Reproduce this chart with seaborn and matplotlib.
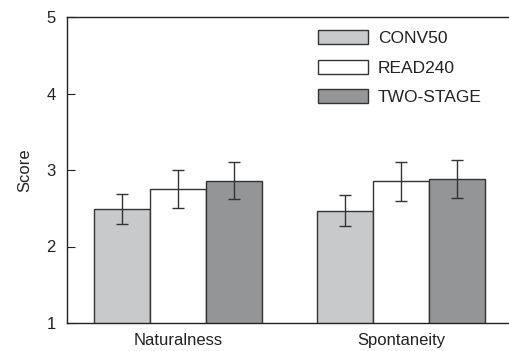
import matplotlib
matplotlib.use("Agg")
import matplotlib.pyplot as plt
import seaborn as sns
import pandas as pd
import numpy as np

categories = ["Naturalness", "Spontaneity"]
systems = ["CONV50", "READ240", "TWO-STAGE"]
conv50 = [2.49, 2.47]
read240 = [2.75, 2.85]
twostage = [2.86, 2.88]
conv50_err = [0.195, 0.20]
read240_err = [0.245, 0.255]
twostage_err = [0.24, 0.25]

sns.set_theme(style="white")
plt.rcParams["font.family"] = ["Liberation Sans", "DejaVu Sans"]

rows = []
for sysname, vals, errs in [("CONV50", conv50, conv50_err),
                            ("READ240", read240, read240_err),
                            ("TWO-STAGE", twostage, twostage_err)]:
    for c, v, e in zip(categories, vals, errs):
        rows.append({"Category": c, "System": sysname, "Score": v, "Err": e})
df = pd.DataFrame(rows)

palette = {"CONV50": "#c8c9cb", "READ240": "#ffffff", "TWO-STAGE": "#939598"}

fig = plt.figure(figsize=(5.09, 3.51), dpi=100)
ax = fig.add_axes([67/509, 1-323/351, 1-67/509, (323-17)/351])

sns.barplot(data=df, x="Category", y="Score", hue="System", order=categories,
            hue_order=systems, palette=palette, width=0.75, errorbar=None,
            edgecolor="#333333", linewidth=1.0, ax=ax)

# error bars at bar centers
for cont, sysname in zip(ax.containers, systems):
    sub = df[df.System == sysname].set_index("Category").loc[categories]
    xs = [p.get_x() + p.get_width()/2 for p in cont.patches]
    ax.errorbar(xs, sub["Score"].values, yerr=sub["Err"].values, fmt="none",
                ecolor="#333333", elinewidth=1.0, capsize=4, capthick=1.0, zorder=5)

ax.set_ylim(1, 5)
ax.set_xlim(-0.498, 1.484)
ax.set_yticks([1, 2, 3, 4, 5])
ax.set_xlabel("")
ax.set_ylabel("Score", fontsize=12, color="#222222", labelpad=10)
for s in ["left", "top", "bottom"]:
    ax.spines[s].set_visible(True)
    ax.spines[s].set_color("#222222")
    ax.spines[s].set_linewidth(1.0)
ax.spines["right"].set_visible(False)
ax.tick_params(axis="y", direction="in", length=6, width=0.8, color="#222222",
               labelsize=12, labelcolor="#222222", pad=8, left=True)
ax.tick_params(axis="x", length=0, labelsize=12, labelcolor="#222222", pad=7)

leg = ax.legend(frameon=False, loc="upper left", bbox_to_anchor=(0.568, 0.958),
                fontsize=12.5, handlelength=2.88, handleheight=0.86,
                labelspacing=0.79, handletextpad=0.57, borderaxespad=0, borderpad=0)
for h in leg.legend_handles:
    h.set_edgecolor("#333333")
    h.set_linewidth(1.0)
for t in leg.get_texts():
    t.set_color("#222222")

fig.savefig("out.png", dpi=100)
